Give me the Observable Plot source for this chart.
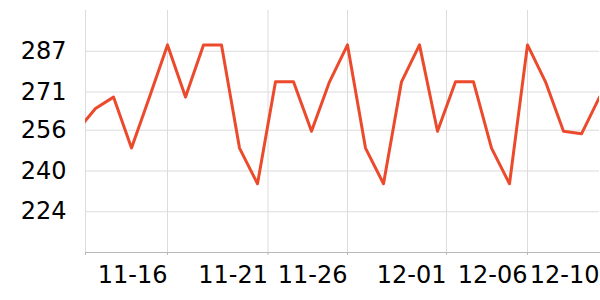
<!DOCTYPE html>
<html>
<head>
<meta charset="utf-8">
<script src="https://cdn.jsdelivr.net/npm/d3@7"></script>
<script src="https://cdn.jsdelivr.net/npm/@observablehq/plot@0.6"></script>
<style>
  html, body { margin: 0; padding: 0; background: #fff; }
  svg { display: block; }
</style>
</head>
<body>
<div id="chart"></div>
<script>
// Categories (daily dates) and series values
const dates = [
  "2023-11-11","2023-11-12","2023-11-13","2023-11-14","2023-11-15","2023-11-16",
  "2023-11-17","2023-11-18","2023-11-19","2023-11-20","2023-11-21","2023-11-22",
  "2023-11-23","2023-11-24","2023-11-25","2023-11-26","2023-11-27","2023-11-28",
  "2023-11-29","2023-11-30","2023-12-01","2023-12-02","2023-12-03","2023-12-04",
  "2023-12-05","2023-12-06","2023-12-07","2023-12-08","2023-12-09","2023-12-10"
];
const values = [
  256, 264.5, 269, 249, 269, 289.5,
  269, 289.5, 289.5, 249, 235, 275,
  275, 255.6, 275, 289.5, 249, 235,
  275, 289.5, 255.6, 275, 275, 249,
  235, 289.5, 275, 255.6, 254.6, 269
];
// Axis ticks
const yTicks = [224, 240, 256, 271, 287];
const xDomain = ["2023-11-11T10:40:00Z", "2023-12-10T00:00:00Z"];
const xGridTicks = ["2023-11-11T10:40:00Z", "2023-11-16T00:00:00Z", "2023-11-21T14:00:00Z",
                    "2023-11-26T00:00:00Z", "2023-12-01T12:00:00Z", "2023-12-06T00:00:00Z"];
const xLabelTicks = ["2023-11-16T00:00:00Z", "2023-11-21T14:00:00Z", "2023-11-26T00:00:00Z",
                     "2023-12-01T12:00:00Z", "2023-12-06T00:00:00Z", "2023-12-10T00:00:00Z"];

const data = dates.map((d, i) => ({date: new Date(d + "T00:00:00Z"), value: values[i]}));
const gridT = xGridTicks.map(d => new Date(d));
const labelT = xLabelTicks.map(d => new Date(d));
const fmt = d3.utcFormat("%m-%d");

const chart = Plot.plot({
  width: 600,
  height: 300,
  marginLeft: 85,
  marginRight: 1,
  marginTop: 10,
  marginBottom: 48,
  style: {fontFamily: "DejaVu Sans", fontSize: "24px", background: "#fff", color: "#000"},
  x: {type: "utc", domain: xDomain.map(d => new Date(d))},
  y: {domain: [208, 303]},
  marks: [
    Plot.gridY(yTicks, {stroke: "#dcdcdc", strokeOpacity: 1, strokeWidth: 1}),
    Plot.gridX(gridT, {stroke: "#dcdcdc", strokeOpacity: 1, strokeWidth: 1}),
    Plot.frame({anchor: "bottom", stroke: "#b8b8b8"}),
    Plot.axisX(gridT, {tickSize: 3, stroke: "#b8b8b8", tickFormat: () => "", label: null}),
    Plot.axisX(labelT, {tickSize: 0, tickPadding: 13, textAnchor: "end", tickFormat: fmt,
                        fontSize: 24, fill: "#000", label: null}),
    Plot.axisY(yTicks, {tickSize: 0, tickPadding: 19, fontSize: 24, fill: "#000", label: null}),
    Plot.line(data, {x: "date", y: "value", stroke: "#ec4a2c", strokeWidth: 3, clip: true})
  ]
});
document.getElementById("chart").appendChild(chart);
</script>
</body>
</html>
